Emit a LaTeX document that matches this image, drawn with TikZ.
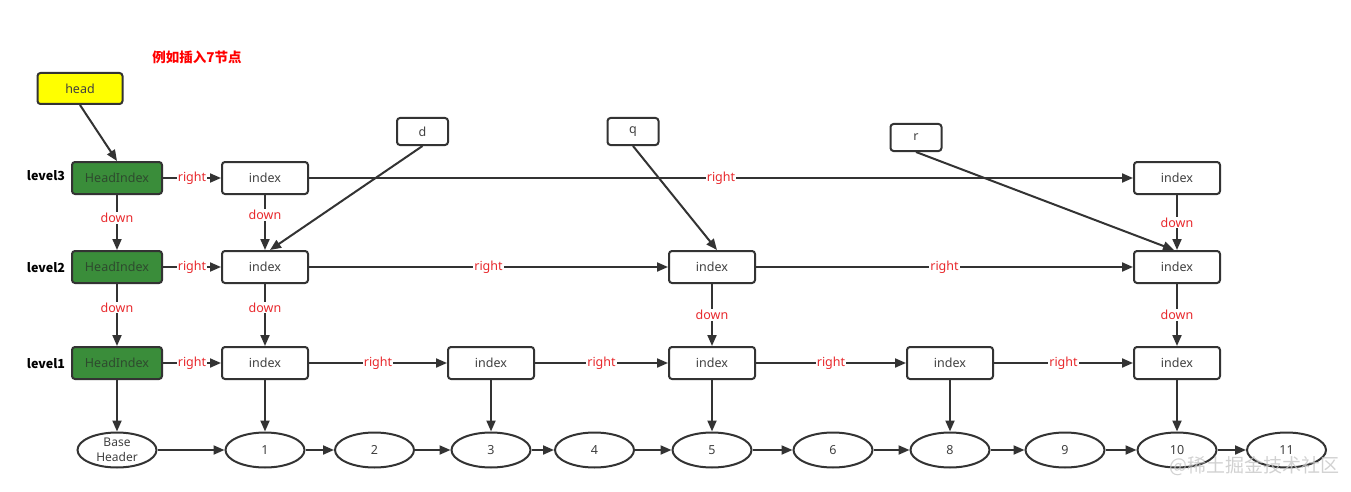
\documentclass[tikz,border=0pt]{standalone}
\usepackage{fontspec}
\setmainfont{Noto Sans}
\newfontfamily\cjk{Noto Sans CJK SC}
\usetikzlibrary{arrows.meta,shapes.geometric}
\definecolor{lineC}{HTML}{333333}
\definecolor{txtC}{HTML}{404040}
\definecolor{hgreen}{HTML}{3A8D3A}
\definecolor{htxt}{HTML}{2E4A2E}
\definecolor{redlab}{HTML}{E8282C}
\definecolor{headY}{HTML}{FFFF00}
\tikzset{
  box/.style={draw=lineC, line width=2pt, rounded corners=3pt, minimum width=86pt,
    minimum height=32pt, inner sep=0pt, text=txtC, font=\fontsize{12.5}{14}\selectfont},
  hidx/.style={box, fill=hgreen, text=htxt, minimum width=90pt},
  headbox/.style={box, fill=headY, minimum width=85pt, minimum height=31pt},
  ptr/.style={box, minimum width=51pt, minimum height=27pt},
  elem/.style={ellipse, draw=lineC, line width=2pt, minimum width=79pt, minimum height=35pt,
    inner sep=0pt, text=txtC, font=\fontsize{12.5}{14}\selectfont},
  lvl/.style={font=\cjk\bfseries\fontsize{12.5}{14}\selectfont, text=black},
  arr/.style={draw=lineC, line width=2pt, -{Triangle[length=11pt,width=9pt]}},
  lab/.style={fill=white, text=redlab, inner sep=1pt, font=\fontsize{12.5}{14}\selectfont},
}
\begin{document}
\begin{tikzpicture}[x=1pt,y=-1pt]
\useasboundingbox (0,0) rectangle (1351,492);
% title
\node[text=red, font=\cjk\bfseries\fontsize{13.5}{15}\selectfont] (title) at (197,57) {例如插入7节点};
% head
\node[headbox] (head) at (80,88.5) {head};
% level labels
\node[lvl] (l3) at (46,176) {level3};
\node[lvl] (l2) at (46,268) {level2};
\node[lvl] (l1) at (46,364) {level1};
% head indexes
\node[hidx] (h3) at (117,178) {HeadIndex};
\node[hidx] (h2) at (117,267) {HeadIndex};
\node[hidx] (h1) at (117,363) {HeadIndex};
% level3
\node[box] (i31) at (265,178) {index};
\node[box] (i35) at (1177,178) {index};
% level2
\node[box] (i21) at (265,267) {index};
\node[box] (i23) at (712,267) {index};
\node[box] (i25) at (1177,267) {index};
% level1
\node[box] (i11) at (265,363) {index};
\node[box] (i12) at (491,363) {index};
\node[box] (i13) at (712,363) {index};
\node[box] (i14) at (950,363) {index};
\node[box] (i15) at (1177,363) {index};
% pointers
\node[ptr] (d) at (422.5,131.5) {d};
\node[ptr] (q) at (633,131.5) {q};
\node[ptr] (r) at (916,137.5) {r};
% elements
\node[elem, align=center, font=\fontsize{12}{15.5}\selectfont] (bh) at (117,450) {Base\\Header};
\node[elem] (e1) at (265,450) {1};
\node[elem] (e2) at (374.5,450) {2};
\node[elem] (e3) at (491,450) {3};
\node[elem] (e4) at (594.5,450) {4};
\node[elem] (e5) at (712,450) {5};
\node[elem] (e6) at (833,450) {6};
\node[elem] (e8) at (950,450) {8};
\node[elem] (e9) at (1065,450) {9};
\node[elem] (e10) at (1177,450) {10};
\node[elem] (e11) at (1286.5,450) {11};
% watermark
\node[text=gray!45, opacity=.8, font=\cjk\fontsize{19}{20}\selectfont] (wm) at (1254,466) {@稀土掘金技术社区};
% connectors
\draw[arr] (head.south) -- (h3.north);
\draw[arr] (d.south) -- ([xshift=5pt]i21.north);
\draw[arr] (q.south) -- ([xshift=5pt]i23.north);
\draw[arr] (r.south) -- ([xshift=-3pt]i25.north);
% rights
\draw[arr] (h3) -- node[lab]{right} (i31);
\draw[arr] (i31) -- node[lab]{right} (i35);
\draw[arr] (h2) -- node[lab]{right} (i21);
\draw[arr] (i21) -- node[lab]{right} (i23);
\draw[arr] (i23) -- node[lab]{right} (i25);
\draw[arr] (h1) -- node[lab]{right} (i11);
\draw[arr] (i11) -- node[lab]{right} (i12);
\draw[arr] (i12) -- node[lab]{right} (i13);
\draw[arr] (i13) -- node[lab]{right} (i14);
\draw[arr] (i14) -- node[lab]{right} (i15);
% downs
\draw[arr] (h3) -- node[lab,pos=.42]{down} (h2);
\draw[arr] (i31) -- node[lab,pos=.36]{down} (i21);
\draw[arr] (i35) -- node[lab,pos=.5]{down} (i25);
\draw[arr] (h2) -- node[lab,pos=.38]{down} (h1);
\draw[arr] (i21) -- node[lab,pos=.38]{down} (i11);
\draw[arr] (i23) -- node[lab,pos=.5]{down} (i13);
\draw[arr] (i25) -- node[lab,pos=.5]{down} (i15);
% to elements
\draw[arr] (h1) -- (bh);
\draw[arr] (i11) -- (e1);
\draw[arr] (i12) -- (e3);
\draw[arr] (i13) -- (e5);
\draw[arr] (i14) -- (e8);
\draw[arr] (i15) -- (e10);
% bottom chain
\draw[arr] (bh) -- (e1);
\draw[arr] (e1) -- (e2);
\draw[arr] (e2) -- (e3);
\draw[arr] (e3) -- (e4);
\draw[arr] (e4) -- (e5);
\draw[arr] (e5) -- (e6);
\draw[arr] (e6) -- (e8);
\draw[arr] (e8) -- (e9);
\draw[arr] (e9) -- (e10);
\draw[arr] (e10) -- (e11);
\end{tikzpicture}
\end{document}
